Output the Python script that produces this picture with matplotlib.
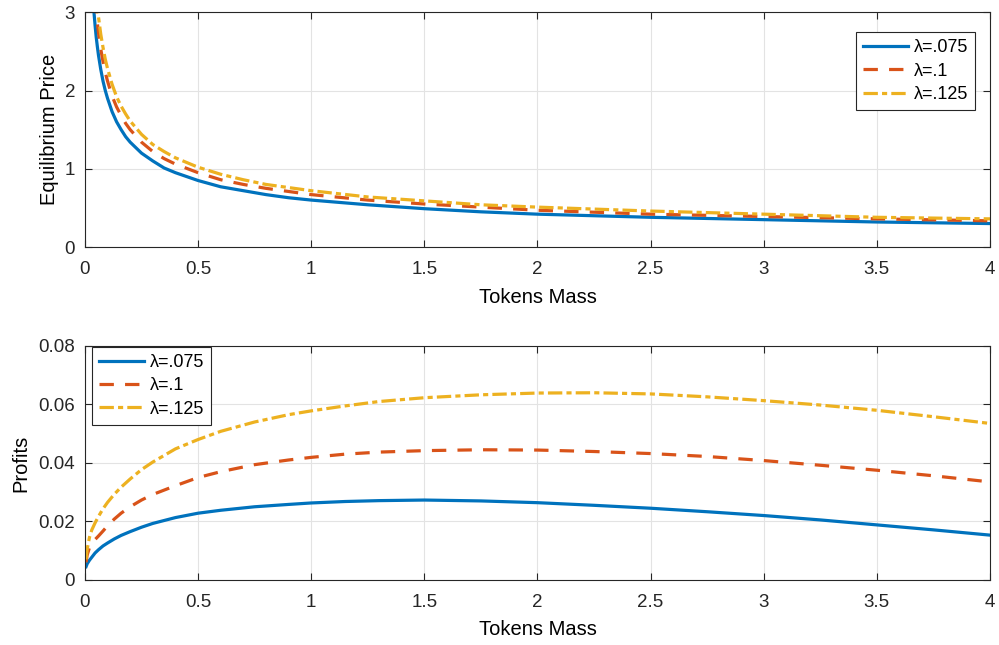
import matplotlib
matplotlib.use('Agg')
import matplotlib.pyplot as plt

plt.rcParams['font.family'] = ['Liberation Sans', 'DejaVu Sans']

# top panel: equilibrium price vs tokens mass
x_price = [0.04, 0.045, 0.05, 0.055, 0.06, 0.07, 0.08, 0.09, 0.1, 0.12, 0.14, 0.16, 0.18, 0.2,
           0.25, 0.3, 0.35, 0.4, 0.5, 0.6, 0.7, 0.8, 0.9, 1.0, 1.25, 1.5, 1.75, 2.0, 2.5, 3.0,
           3.5, 4.0]
price_075 = [3.00, 2.83, 2.68, 2.56, 2.45, 2.27, 2.12, 2.00, 1.90, 1.73, 1.60, 1.50, 1.41, 1.34,
             1.20, 1.10, 1.01, 0.95, 0.85, 0.77, 0.72, 0.67, 0.63, 0.60, 0.54, 0.49, 0.45, 0.42,
             0.38, 0.35, 0.32, 0.30]
price_1 = [3.35, 3.16, 3.00, 2.86, 2.74, 2.53, 2.37, 2.23, 2.12, 1.93, 1.79, 1.68, 1.58, 1.50,
           1.34, 1.22, 1.13, 1.06, 0.95, 0.86, 0.80, 0.75, 0.71, 0.67, 0.60, 0.55, 0.51, 0.47,
           0.42, 0.39, 0.36, 0.335]
price_125 = [3.60, 3.39, 3.22, 3.07, 2.94, 2.72, 2.55, 2.40, 2.28, 2.08, 1.92, 1.80, 1.70, 1.61,
             1.44, 1.31, 1.22, 1.14, 1.02, 0.93, 0.86, 0.80, 0.76, 0.72, 0.64, 0.59, 0.54, 0.51,
             0.46, 0.42, 0.38, 0.36]

# bottom panel: profits vs tokens mass
x_profit = [0.005, 0.01, 0.02, 0.03, 0.045, 0.06, 0.08, 0.1, 0.13, 0.16, 0.2, 0.25, 0.3, 0.4,
            0.5, 0.6, 0.75, 0.9, 1.0, 1.15, 1.3, 1.5, 1.75, 2.0, 2.25, 2.5, 2.75, 3.0, 3.25,
            3.5, 3.75, 4.0]
profit_075 = [0.0045, 0.0055, 0.0067, 0.0077, 0.0092, 0.0103, 0.0116, 0.0126, 0.0140, 0.0152,
              0.0165, 0.0180, 0.0193, 0.0213, 0.0228, 0.0238, 0.0250, 0.0258, 0.0263, 0.0268,
              0.0271, 0.0273, 0.0270, 0.0264, 0.0255, 0.0245, 0.0233, 0.0220, 0.0205, 0.0188,
              0.0171, 0.0153]
profit_1 = [0.0060, 0.0085, 0.0110, 0.0124, 0.0138, 0.0150, 0.0167, 0.0185, 0.0208, 0.0228,
            0.0250, 0.0273, 0.0292, 0.0322, 0.0350, 0.0370, 0.0394, 0.0410, 0.0419, 0.0430,
            0.0437, 0.0442, 0.0445, 0.0444, 0.0439, 0.0432, 0.0422, 0.0408, 0.0392, 0.0375,
            0.0356, 0.0335]
profit_125 = [0.0070, 0.0105, 0.0145, 0.0170, 0.0195, 0.0217, 0.0243, 0.0265, 0.0293, 0.0317,
              0.0345, 0.0377, 0.0403, 0.0448, 0.0480, 0.0508, 0.0540, 0.0565, 0.0578, 0.0595,
              0.0610, 0.0623, 0.0633, 0.0639, 0.0640, 0.0636, 0.0626, 0.0613, 0.0598, 0.0580,
              0.0558, 0.0535]

labels = ['λ=.075', 'λ=.1', 'λ=.125']
colors = ['#0072BD', '#D95319', '#EDB120']
styles = ['-', (0, (4.5, 3.5)), (0, (4.5, 1.3, 1.6, 1.3))]
xticks = [0, 0.5, 1, 1.5, 2, 2.5, 3, 3.5, 4]
xtick_labels = ['0', '0.5', '1', '1.5', '2', '2.5', '3', '3.5', '4']

fig = plt.figure(figsize=(9.99, 6.45), dpi=100)
ax1 = fig.add_axes([0.085, 0.617, 0.906, 0.364])
ax2 = fig.add_axes([0.085, 0.101, 0.906, 0.3626])


def style_axes(ax):
    ax.grid(True, color='#e3e3e3', linewidth=0.8)
    ax.set_axisbelow(True)
    ax.tick_params(direction='in', length=5, labelsize=13.5, colors='#262626',
                   top=True, right=True, labeltop=False, labelright=False)
    ax.tick_params(axis='x', pad=10)
    ax.tick_params(axis='y', pad=7)
    for s in ax.spines.values():
        s.set_color('#262626')
        s.set_linewidth(0.8)


def add_legend(ax, **kw):
    leg = ax.legend(fontsize=13, fancybox=False, edgecolor='#262626', framealpha=1,
                    handlelength=2.5, handletextpad=0.3, labelspacing=0.35,
                    borderpad=0.4, borderaxespad=0, **kw)
    leg.get_frame().set_linewidth(0.8)
    return leg


for ys, c, ls, lab in zip([price_075, price_1, price_125], colors, styles, labels):
    ax1.plot(x_price, ys, color=c, linestyle=ls, linewidth=2.3, label=lab)
ax1.set_xlim(0, 4)
ax1.set_ylim(0, 3)
ax1.set_xticks(xticks)
ax1.set_xticklabels(xtick_labels)
ax1.set_yticks([0, 1, 2, 3])
ax1.set_xlabel('Tokens Mass', fontsize=14.5, labelpad=7)
ax1.set_ylabel('Equilibrium Price', fontsize=14.5, labelpad=4)
style_axes(ax1)
add_legend(ax1, loc='upper right', bbox_to_anchor=(0.9834, 0.915))

for ys, c, ls, lab in zip([profit_075, profit_1, profit_125], colors, styles, labels):
    ax2.plot(x_profit, ys, color=c, linestyle=ls, linewidth=2.3, label=lab)
ax2.set_xlim(0, 4)
ax2.set_ylim(0, 0.08)
ax2.set_xticks(xticks)
ax2.set_xticklabels(xtick_labels)
ax2.set_yticks([0, 0.02, 0.04, 0.06, 0.08])
ax2.set_yticklabels(['0', '0.02', '0.04', '0.06', '0.08'])
ax2.set_xlabel('Tokens Mass', fontsize=14.5, labelpad=7)
ax2.set_ylabel('Profits', fontsize=14.5, labelpad=6)
style_axes(ax2)
add_legend(ax2, loc='upper left', bbox_to_anchor=(0.0077, 0.996))

fig.savefig('out.png', dpi=100)
